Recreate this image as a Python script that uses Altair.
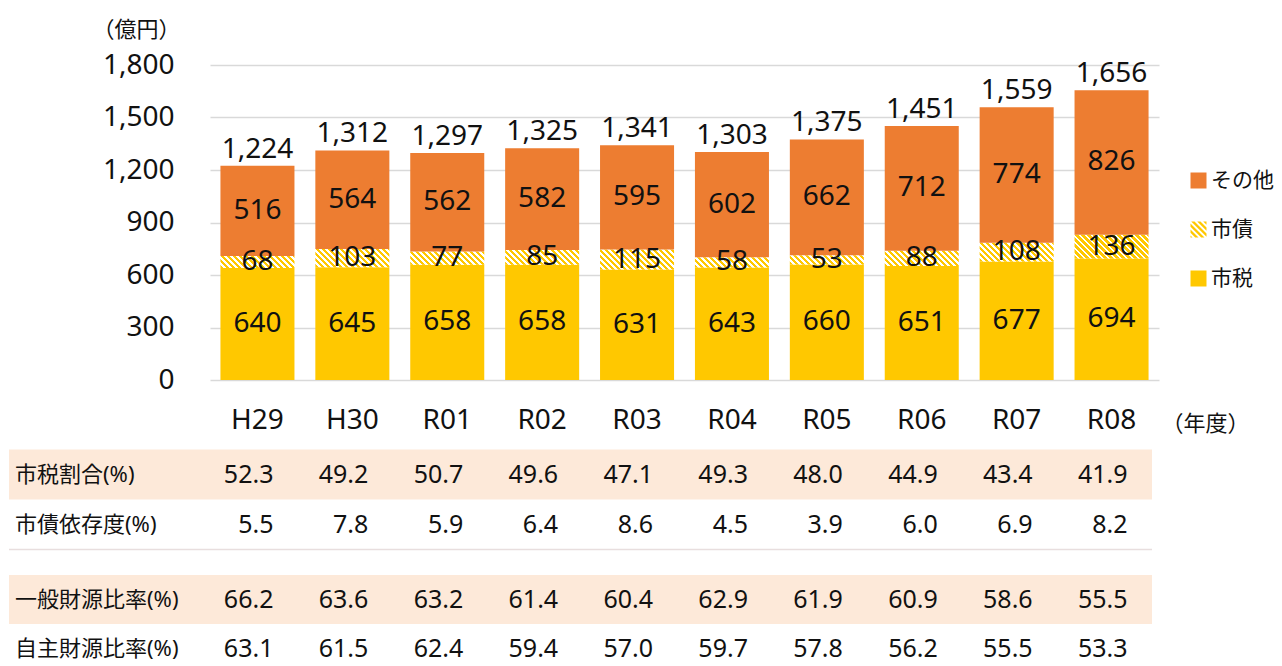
import math
import altair as alt
import pandas as pd

# ---------------- data ----------------
years = ["H29", "H30", "R01", "R02", "R03", "R04", "R05", "R06", "R07", "R08"]
tax = [640, 645, 658, 658, 631, 643, 660, 651, 677, 694]          # 市税
debt = [68, 103, 77, 85, 115, 58, 53, 88, 108, 136]               # 市債
other = [516, 564, 562, 582, 595, 602, 662, 712, 774, 826]        # その他
total = [1224, 1312, 1297, 1325, 1341, 1303, 1375, 1451, 1559, 1656]
series = ["その他", "市債", "市税"]
y_ticks = [0, 300, 600, 900, 1200, 1500, 1800]

tax_ratio = [52.3, 49.2, 50.7, 49.6, 47.1, 49.3, 48.0, 44.9, 43.4, 41.9]
debt_dep = [5.5, 7.8, 5.9, 6.4, 8.6, 4.5, 3.9, 6.0, 6.9, 8.2]
general_ratio = [66.2, 63.6, 63.2, 61.4, 60.4, 62.9, 61.9, 60.9, 58.6, 55.5]
own_ratio = [63.1, 61.5, 62.4, 59.4, 57.0, 59.7, 57.8, 56.2, 55.5, 53.3]
rows_a = ["市税割合(%)", "市債依存度(%)"]
rows_b = ["一般財源比率(%)", "自主財源比率(%)"]

# ---------------- style ----------------
FONT = "Noto Sans, Noto Sans CJK JP"
YELLOW = "#FFC800"
ORANGE = "#ED7D31"
TEXT = "#111111"
PEACH = "#FDE9D9"
GRID = "#D9D9D9"
SEP = "#E8DEDE"

PLOT_W, PLOT_H, Y_MAX = 949, 315, 1800
PAD_IN, PAD_OUT = 0.22, 0.11
BAR_W = PLOT_W / len(years) * (1 - PAD_IN)
LEFT_EDGE = -201      # table band start, relative to plot left
RIGHT_EDGE = 942
LABEL_X = -195


def clip(poly, a, b, c):
    """keep a*x + b*y + c >= 0"""
    out = []
    n = len(poly)
    for i in range(n):
        p, q = poly[i], poly[(i + 1) % n]
        fp = a * p[0] + b * p[1] + c
        fq = a * q[0] + b * q[1] + c
        if fp >= 0:
            out.append(p)
        if (fp >= 0) != (fq >= 0):
            t = fp / (fp - fq)
            out.append((p[0] + t * (q[0] - p[0]), p[1] + t * (q[1] - p[1])))
    return out


def hatch_path(period=0.75, frac=0.55):
    parts = []
    c = -2 - period
    while c < 2:
        poly = [(-1, -1), (1, -1), (1, 1), (-1, 1)]
        poly = clip(poly, -1, 1, -c)
        poly = clip(poly, 1, -1, c + frac * period)
        if len(poly) >= 3:
            parts.append("M" + "L".join(f"{x:.3f},{y:.3f}" for x, y in poly) + "Z")
        c += period
    return "".join(parts)


def hatch_gradient(h_px, w_px=BAR_W, period_px=6.0, frac=0.55):
    r = h_px / w_px
    a = (1 + r) / (1 + r * r)
    n = (w_px + h_px) / period_px
    stops = []
    i = 0
    while i < n:
        o0 = min(i / n, 1)
        o1 = min((i + frac) / n, 1)
        o2 = min((i + 1) / n, 1)
        stops += [
            alt.GradientStop(offset=o0, color=YELLOW),
            alt.GradientStop(offset=o1, color=YELLOW),
            alt.GradientStop(offset=o1, color="white"),
            alt.GradientStop(offset=o2, color="white"),
        ]
        i += 1
    return alt.LinearGradient(gradient="linear", stops=stops,
                              x1=0, y1=1, x2=a, y2=1 - r * a)


# ---------------- frames ----------------
df = pd.DataFrame({"year": years, "tax": tax, "debt": debt,
                   "other": other, "total": total})
df["tax_mid"] = df["tax"] / 2
df["debt_lo"] = df["tax"]
df["debt_hi"] = df["tax"] + df["debt"]
df["debt_mid"] = df["tax"] + df["debt"] / 2
df["other_lo"] = df["debt_hi"]
df["other_mid"] = df["debt_hi"] + df["other"] / 2

XSCALE = alt.Scale(domain=years, paddingInner=PAD_IN, paddingOuter=PAD_OUT)
XAXIS = alt.Axis(title="（年度）", labelAngle=0, labelFont=FONT, labelFontSize=28,
                 labelColor=TEXT, labelPadding=26, labelBaseline="top",
                 ticks=False, tickSize=0, domain=False, grid=False,
                 titleFont=FONT, titleFontSize=22, titleFontWeight="normal",
                 titleColor=TEXT, titleX=995, titleY=43.5, titleAlign="center",
                 titleBaseline="middle")
YSCALE = alt.Scale(domain=[0, Y_MAX], nice=False, zero=True)
YAXIS = alt.Axis(values=y_ticks, format=",d", grid=True, gridColor=GRID,
                 gridWidth=1.5, domain=False, ticks=False, tickSize=0,
                 labelPadding=36, labelFont=FONT, labelFontSize=28,
                 labelColor=TEXT, title="（億円）", titleAngle=0,
                 titleX=-74, titleY=-36, titleAlign="center",
                 titleBaseline="middle", titleFont=FONT, titleFontSize=22,
                 titleFontWeight="normal", titleColor=TEXT)


def X():
    return alt.X("year:N", scale=XSCALE, axis=XAXIS)


def Y(field):
    return alt.Y(field, type="quantitative", scale=YSCALE, axis=YAXIS)


layers = []

# legend carrier (invisible points)
leg_df = pd.DataFrame({"series": series, "year": [years[0]] * 3, "v": [100, 100, 100]})
LEG = alt.Legend(title=None, orient="none", legendX=978, legendY=105,
                 labelFont=FONT, labelFontSize=21, labelColor=TEXT,
                 symbolSize=256, symbolOpacity=1, symbolStrokeWidth=0,
                 labelOffset=2, rowPadding=27, padding=0)
layers.append(
    alt.Chart(leg_df).mark_point(filled=True, opacity=0, size=1).encode(
        x=X(), y=Y("v"),
        color=alt.Color("series:N", scale=alt.Scale(domain=series, range=[ORANGE, YELLOW, YELLOW]), legend=LEG),
        shape=alt.Shape("series:N", scale=alt.Scale(domain=series, range=["square", hatch_path(), "square"]), legend=LEG),
    )
)

base = alt.Chart(df)
layers.append(base.mark_bar(fill=YELLOW).encode(x=X(), y=Y("tax")))
for i, yv in enumerate(years):
    h_px = debt[i] * PLOT_H / Y_MAX
    layers.append(
        alt.Chart(df[df["year"] == yv]).mark_bar(fill=hatch_gradient(h_px)).encode(
            x=X(), y=Y("debt_lo"), y2="debt_hi")
    )
layers.append(base.mark_bar(fill=ORANGE).encode(x=X(), y=Y("other_lo"), y2="total"))

txt = dict(font=FONT, fontSize=28, color=TEXT)
layers.append(base.mark_text(**txt).encode(x=X(), y=Y("tax_mid"), text=alt.Text("tax:Q")))
layers.append(base.mark_text(**txt).encode(x=X(), y=Y("debt_mid"), text=alt.Text("debt:Q")))
layers.append(base.mark_text(**txt).encode(x=X(), y=Y("other_mid"), text=alt.Text("other:Q")))
layers.append(base.mark_text(baseline="bottom", dy=-2, **txt).encode(
    x=X(), y=Y("total"), text=alt.Text("total:Q", format=",")))

top = alt.layer(*layers).properties(width=PLOT_W, height=PLOT_H)


# ---------------- tables ----------------
def table(rows, values_list, height, shaded, sep_bottom=False, lift=0):
    long = []
    for r, vals in zip(rows, values_list):
        for yv, v in zip(years, vals):
            long.append({"row": r, "year": yv, "value": v})
    tdf = pd.DataFrame(long)
    ldf = pd.DataFrame({"row": rows})
    YR = alt.Y("row:N", sort=rows, axis=None,
               scale=alt.Scale(domain=rows, paddingInner=0, paddingOuter=0))
    XT = alt.X("year:N", scale=XSCALE, axis=None)
    parts = [
        alt.Chart(pd.DataFrame({"row": [shaded]})).mark_rect(fill=PEACH).encode(
            y=YR, x=alt.value(LEFT_EDGE), x2=alt.value(RIGHT_EDGE)),
        alt.Chart(ldf).mark_text(align="left", font=FONT, fontSize=22, color=TEXT).encode(
            y=YR, x=alt.value(LABEL_X), text="row:N"),
        alt.Chart(tdf).mark_text(align="right", dx=16, font=FONT, fontSize=25, color=TEXT).encode(
            y=YR, x=XT, text=alt.Text("value:Q", format=".1f")),
    ]
    if sep_bottom:
        parts.append(alt.Chart(ldf.head(1)).mark_rule(color=SEP, strokeWidth=1.5).encode(
            y=alt.value(height), x=alt.value(LEFT_EDGE), x2=alt.value(RIGHT_EDGE)))
    if lift:
        parts.append(alt.Chart(ldf.head(1)).mark_rule(strokeOpacity=0, color="white").encode(
            y=alt.value(-lift), x=alt.value(0), x2=alt.value(10)))
    return alt.layer(*parts).properties(width=PLOT_W, height=height)


tA = table(rows_a, [tax_ratio, debt_dep], 100, rows_a[0], sep_bottom=True)
tB = table(rows_b, [general_ratio, own_ratio], 98, rows_b[0], lift=9.5)

chart = alt.vconcat(top, tA, tB, spacing=14.5).properties(
    padding={"left": 0, "top": 10, "right": 0, "bottom": 0}
).configure(font=FONT).configure_view(strokeWidth=0, stroke="transparent")

chart.save("out.html", embed_options={"renderer": "svg", "actions": False})
